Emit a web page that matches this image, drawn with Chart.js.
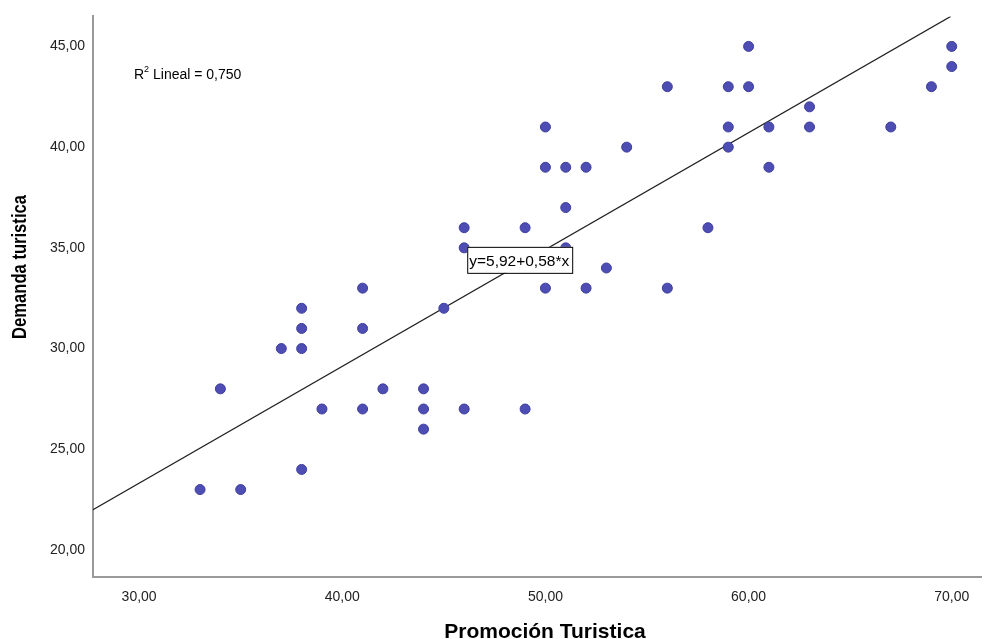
<!DOCTYPE html>
<html>
<head>
<meta charset="utf-8">
<script src="https://cdn.jsdelivr.net/npm/chart.js@4"></script>
<style>
  html, body { margin: 0; padding: 0; background: #ffffff; }
  #wrap { width: 987px; height: 639px; }
</style>
</head>
<body>
<div id="wrap"><canvas id="chart" width="987" height="639"></canvas></div>
<script>
// Promoción Turistica (x) vs Demanda turistica (y)
const promocion = [33, 35, 34, 37, 38, 38, 38, 38, 39, 41, 41, 41, 42, 44, 44, 44,
    45, 46, 46, 46, 49, 49, 50, 50, 50, 51, 51, 51, 52, 52, 53, 54,
    56, 56, 58, 59, 59, 59, 60, 60, 61, 61, 63, 63, 67, 69, 70, 70]
const demanda = [23, 23, 28, 30, 30, 31, 32, 24, 27, 27, 31, 33, 28, 28, 27, 26,
    32, 27, 35, 36, 36, 27, 33, 39, 41, 37, 39, 35, 39, 33, 34, 40,
    43, 33, 36, 43, 41, 40, 45, 43, 41, 39, 42, 41, 41, 43, 44, 45]

const intercept = 5.92
const slope = 0.58
const r2Label = 'Lineal = 0,750'
const equationLabel = 'y=5,92+0,58*x'
const xTitle = 'Promoción Turistica'
const yTitle = 'Demanda turistica'

const xTicks = [30, 40, 50, 60, 70]
const yTicks = [20, 25, 30, 35, 40, 45]
const xMin = 27.73, xMax = 71.44
const yMin = 18.66, yMax = 46.49

const fmt = v => v.toFixed(2).replace('.', ',')
const FONT = '"Liberation Sans", Arial, sans-serif'

const points = promocion.map((x, i) => ({ x: x, y: demanda[i] }))

// fit line clipped to the plotting range
const lineX2 = Math.min(xMax, (yMax - intercept) / slope)
const fitLine = [
    { x: xMin, y: intercept + slope * xMin },
    { x: lineX2, y: intercept + slope * lineX2 }
]

const annotations = {
    id: 'annotations',
    afterDatasetsDraw(chart) {
        const ctx = chart.ctx
        const xs = chart.scales.x
        const ys = chart.scales.y
        ctx.save()
        ctx.fillStyle = '#000'
        ctx.textBaseline = 'alphabetic'

        // R² label
        ctx.font = '14px ' + FONT
        ctx.fillText('R', 134, 79)
        ctx.font = '9px ' + FONT
        ctx.fillText('2', 144, 72)
        ctx.font = '14px ' + FONT
        ctx.fillText(r2Label, 153, 79)

        // equation box, anchored near the fit line
        const ex = xs.getPixelForValue(46.15)
        const ey = ys.getPixelForValue(35.05)
        ctx.font = '15.5px ' + FONT
        const w = ctx.measureText(equationLabel).width + 5
        ctx.fillStyle = '#fff'
        ctx.fillRect(ex, ey, w, 26)
        ctx.strokeStyle = '#000'
        ctx.lineWidth = 1
        ctx.strokeRect(ex + 0.5, ey + 0.5, w, 26)
        ctx.fillStyle = '#000'
        ctx.fillText(equationLabel, ex + 2, ey + 19)

        // axis titles
        ctx.font = 'bold 21px ' + FONT
        ctx.textAlign = 'center'
        ctx.fillText(xTitle, 545, 638)

        ctx.translate(26, 267)
        ctx.rotate(-Math.PI / 2)
        ctx.scale(0.83, 1)
        ctx.font = 'bold 20px ' + FONT
        ctx.fillText(yTitle, 0, 0)
        ctx.restore()
    }
}

const ctx = document.getElementById('chart').getContext('2d')
new Chart(ctx, {
    type: 'scatter',
    data: {
        datasets: [
            {
                type: 'line',
                data: fitLine,
                borderColor: '#222222',
                borderWidth: 1.2,
                pointRadius: 0,
                fill: false,
                order: 2
            },
            {
                data: points,
                backgroundColor: '#4d4db3',
                borderColor: '#3e3ea0',
                borderWidth: 1,
                pointRadius: 5,
                order: 1
            }
        ]
    },
    options: {
        responsive: false,
        animation: false,
        layout: { padding: { top: 15, right: 0, left: 0, bottom: 0 } },
        plugins: {
            legend: { display: false },
            tooltip: { enabled: false }
        },
        scales: {
            x: {
                type: 'linear',
                min: xMin,
                max: xMax,
                afterBuildTicks: s => { s.ticks = xTicks.map(v => ({ value: v })) },
                afterFit: s => { s.height = 62 },
                grid: { display: false, drawTicks: false },
                border: { color: '#9a9a9a', width: 2 },
                ticks: {
                    padding: 12,
                    color: '#222',
                    font: { family: FONT, size: 14 },
                    callback: v => fmt(v)
                }
            },
            y: {
                type: 'linear',
                min: yMin,
                max: yMax,
                afterBuildTicks: s => { s.ticks = yTicks.map(v => ({ value: v })) },
                afterFit: s => { s.width = 93 },
                grid: { display: false, drawTicks: false },
                border: { color: '#9a9a9a', width: 2 },
                ticks: {
                    padding: 8,
                    color: '#222',
                    font: { family: FONT, size: 14 },
                    callback: v => fmt(v)
                }
            }
        }
    },
    plugins: [annotations]
})
</script>
</body>
</html>
